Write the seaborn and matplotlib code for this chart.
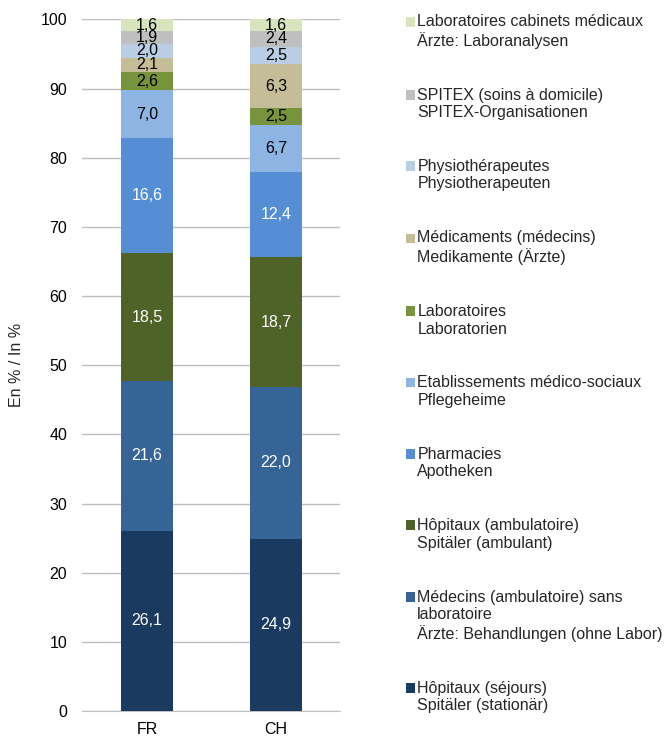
#! /usr/bin/env python3

import pandas as pd
import matplotlib.pyplot as plt
import seaborn as sns
from matplotlib.patches import Rectangle
from matplotlib.legend_handler import HandlerPatch

REGIONS = ['FR', 'CH']

CATEGORIES = [
    'Hôpitaux (séjours)\nSpitäler (stationär)',
    'Médecins (ambulatoire) sans\nlaboratoire\nÄrzte: Behandlungen (ohne Labor)',
    'Hôpitaux (ambulatoire)\nSpitäler (ambulant)',
    'Pharmacies\nApotheken',
    'Etablissements médico-sociaux\nPflegeheime',
    'Laboratoires\nLaboratorien',
    'Médicaments (médecins)\nMedikamente (Ärzte)',
    'Physiothérapeutes\nPhysiotherapeuten',
    'SPITEX (soins à domicile)\nSPITEX-Organisationen',
    'Laboratoires cabinets médicaux\nÄrzte: Laboranalysen',
]

FR = [26.1, 21.6, 18.5, 16.6, 7.0, 2.6, 2.1, 2.0, 1.9, 1.6]
CH = [24.9, 22.0, 18.7, 12.4, 6.7, 2.5, 6.3, 2.5, 2.4, 1.6]

COLORS = ['#1b3a5f', '#376497', '#4f6228', '#558ed5', '#8eb4e3',
          '#77933c', '#c4bd97', '#b9cde5', '#bfbfbf', '#d7e4bd']
WHITE_LABELS = 4  # les 4 premiers segments ont un texte blanc
FS = 11.5


class TopHandler(HandlerPatch):
    '''Place le carré de légende au niveau de la première ligne du texte.'''

    def __init__(self, nlines, **kw):
        super().__init__(**kw)
        self.nlines = nlines

    def create_artists(self, legend, orig_handle, xdescent, ydescent,
                       width, height, fontsize, trans):
        shift = (self.nlines - 1) / 2 * fontsize * 1.2
        p = Rectangle((-xdescent, -ydescent + shift), width, height,
                      facecolor=orig_handle.get_facecolor(), lw=0,
                      transform=trans)
        return [p]


def build_data() -> pd.DataFrame:
    rows = []
    for region, values in zip(REGIONS, [FR, CH]):
        for cat, v in zip(CATEGORIES, values):
            rows.append({'region': region, 'categorie': cat, 'valeur': v})
    return pd.DataFrame(rows)


if __name__ == '__main__':
    data = build_data()
    sns.set_style('white')
    plt.rcParams['font.family'] = ['Liberation Sans', 'DejaVu Sans']

    fig = plt.figure(figsize=(6.65, 7.38), dpi=100)
    ax = fig.add_axes([0.124, 0.0366, 0.388, 0.937])

    bottom = pd.Series(0.0, index=REGIONS)
    handles = []
    for i, cat in enumerate(CATEGORIES):
        sub = data[data.categorie == cat].set_index('region').loc[REGIONS]
        ax.bar(REGIONS, sub.valeur, bottom=bottom[REGIONS], width=0.4,
               color=COLORS[i], lw=0, zorder=3, label=cat)
        for j, region in enumerate(REGIONS):
            v = sub.valeur[region]
            ax.text(j, bottom[region] + v / 2, f'{v:.1f}'.replace('.', ','),
                    ha='center', va='center', fontsize=FS, zorder=4,
                    color='white' if i < WHITE_LABELS else 'black')
        bottom = bottom + sub.valeur
        handles.append(Rectangle((0, 0), 1, 1, facecolor=COLORS[i]))

    ax.set_xlim(-0.5, 1.5)
    ax.set_ylim(0, 100)
    ax.set_yticks(range(0, 101, 10))
    ax.yaxis.grid(True, color='#bfbfbf', lw=1, zorder=0)
    ax.tick_params(axis='both', labelsize=FS, length=0, colors='black')
    ax.tick_params(axis='y', pad=11)
    ax.tick_params(axis='x', pad=8)
    for side in ['top', 'right', 'left']:
        ax.spines[side].set_visible(False)
    ax.spines['bottom'].set_color('#bfbfbf')
    ax.set_ylabel('En % / In %', fontsize=FS, labelpad=12)

    rev_h = handles[::-1]
    rev_l = CATEGORIES[::-1]
    hmap = {h: TopHandler(l.count('\n') + 1) for h, l in zip(rev_h, rev_l)}
    ax.legend(rev_h, rev_l, handler_map=hmap, loc='upper left',
              bbox_to_anchor=(1.254, 1.008), frameon=False, fontsize=FS,
              handlelength=0.56, handleheight=0.56, handletextpad=0.15,
              labelspacing=2.44, borderaxespad=0, borderpad=0)

    fig.savefig('out.png', dpi=100)
